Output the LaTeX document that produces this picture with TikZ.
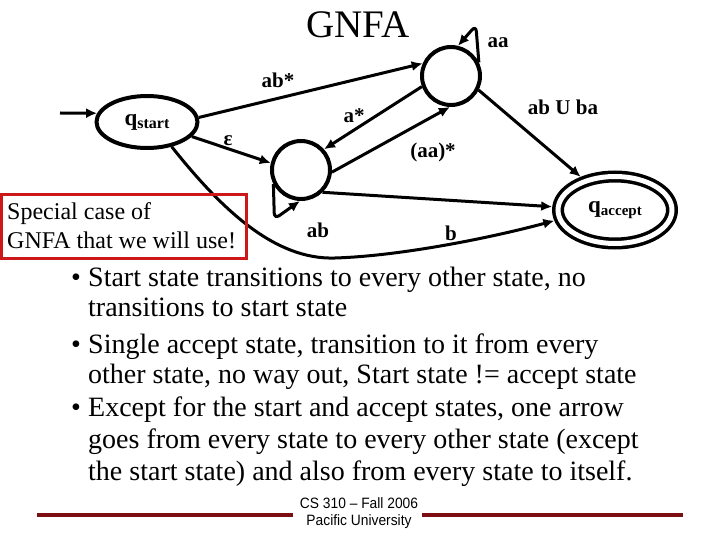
\documentclass[tikz,border=0pt]{standalone}
\usepackage{fontspec}
\setmainfont{Liberation Serif}
\newfontfamily\footfont[FakeStretch=0.92]{Liberation Sans}
\usetikzlibrary{arrows.meta,shapes.geometric}
\definecolor{boxred}{RGB}{204,24,24}
\definecolor{barred}{RGB}{122,14,18}
\tikzset{
  gstate/.style={shape=circle,draw=black,line width=4pt,minimum size=58pt,inner sep=0pt},
  gstart/.style={shape=ellipse,draw=black,line width=4pt,minimum width=101pt,minimum height=52pt,inner sep=0pt,
    font=\bfseries\fontsize{23}{23}\selectfont},
  gaccept/.style={shape=ellipse,draw=black,line width=3.5pt,double,double distance=5pt,minimum width=114pt,
    minimum height=67pt,inner sep=0pt,outer sep=6pt,font=\bfseries\fontsize{23}{23}\selectfont},
  trans/.style={line width=3pt,-{Latex[length=11pt,width=10pt]}},
  lbl/.style={font=\bfseries\fontsize{21}{21}\selectfont,inner sep=0pt},
  bullet/.style={anchor=base,inner sep=0pt,font=\fontsize{28}{28}\selectfont},
  btext/.style={anchor=base west,inner sep=0pt,font=\fontsize{28}{28}\selectfont},
  foot/.style={anchor=base,inner sep=0pt,font=\footfont\fontsize{15}{15}\selectfont},
}
\begin{document}
\begin{tikzpicture}[x=1pt,y=-1pt]
\useasboundingbox (0,0) rectangle (720,540);
% title
\node[anchor=base,inner sep=0pt,font=\fontsize{39}{39}\selectfont] (title) at (358,38) {GNFA};
% states
\node[gstart] (qs) at (147,122) {q\raisebox{-3pt}{\fontsize{16}{16}\selectfont start}};
\node[gstate] (q1) at (301,170) {};
\node[gstate] (q2) at (451,76) {};
\node[gaccept] (qa) at (615,210) {q\raisebox{-3pt}{\fontsize{15}{15}\selectfont accept}};
\coordinate (in) at (60,113);
% transitions
\draw[trans] (in) -- (qs.170);
\draw[trans] (qs.5) -- (q2.156);
\draw[trans] (qs.-18) -- (q1.167);
\draw[trans] (qs.-45) .. controls (222,210) and (275,260) .. (335,258)
  .. controls (400,256) and (490,238) .. (qa.190);
\draw[trans] (q1.-46) -- (qa.177);
\draw[trans] (q1.-4) -- (q2.-92);
\draw[trans] (q2.200) -- (q1.42);
\draw[trans,rounded corners=6pt] (q1.207) -- ++(1,35) -- (q1.-92);
\draw[trans,rounded corners=6pt] (q2.26) -- ++(-3,-37) -- (q2.77);
\draw[trans] (q2.-27) -- (qa.136);
% labels
\node[lbl] (l1) at (278,80) {ab*};
\node[lbl] (l2) at (228,141) {ε};
\node[lbl] (l3) at (354,116) {a*};
\node[lbl] (l4) at (433,152) {(aa)*};
\node[lbl] (l5) at (318,230) {ab};
\node[lbl] (l6) at (451,233) {b};
\node[lbl] (l7) at (498,43) {aa};
\node[lbl] (l8) at (563,107) {ab U ba};
% note box
\draw[boxred,line width=3pt] (1.5,194.5) rectangle (246,258);
\node[anchor=base west,inner sep=0pt,font=\fontsize{24}{24}\selectfont] (n1) at (7,219) {Special case of};
\node[anchor=base west,inner sep=0pt,font=\fontsize{24}{24}\selectfont] (n2) at (7,248) {GNFA that we will use!};
% bullets
\node[bullet] (b1) at (76,286) {•};
\node[btext] (t1) at (88,286) {Start state transitions to every other state, no};
\node[btext] (t2) at (88,316) {transitions to start state};
\node[bullet] (b2) at (76,353) {•};
\node[btext] (t3) at (88,353) {Single accept state, transition to it from every};
\node[btext] (t4) at (88,383) {other state, no way out, Start state != accept state};
\node[bullet] (b3) at (76,416) {•};
\node[btext] (t5) at (88,416) {Except for the start and accept states, one arrow};
\node[btext] (t6) at (88,448) {goes from every state to every other state (except};
\node[btext] (t7) at (88,480) {the start state) and also from every state to itself.};
% footer
\draw[barred,line width=4pt] (37,515) -- (293,515);
\draw[barred,line width=4pt] (422,515) -- (683,515);
\node[foot] (f1) at (359,508) {CS 310 – Fall 2006};
\node[foot] (f2) at (359,525) {Pacific University};
\end{tikzpicture}
\end{document}
